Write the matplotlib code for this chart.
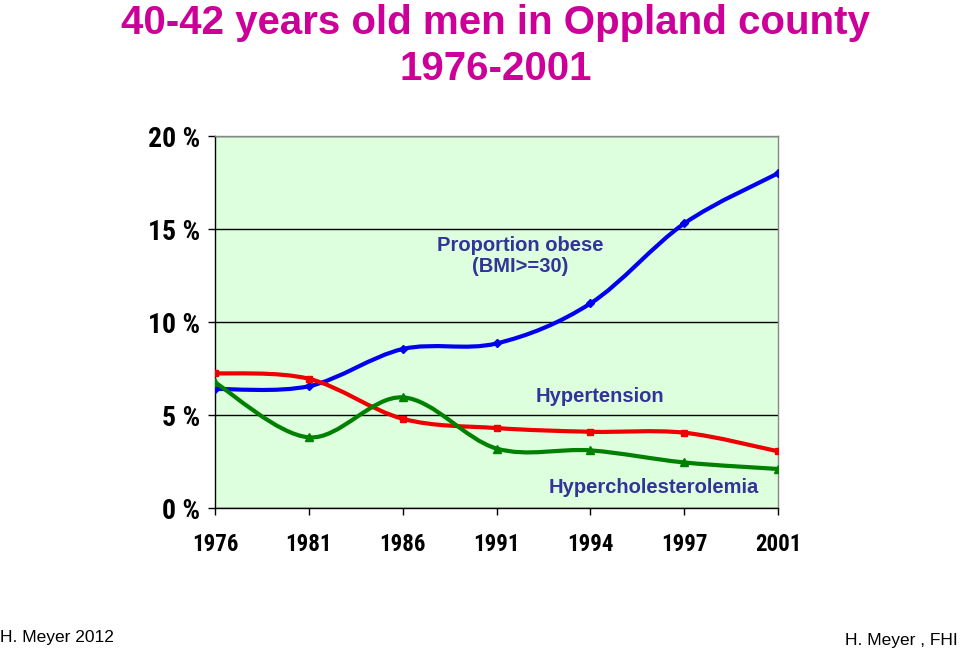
import numpy as np
import matplotlib
matplotlib.use("Agg")
import matplotlib.pyplot as plt
from matplotlib.path import Path
from matplotlib.patches import PathPatch
from matplotlib import font_manager

years = ["1976", "1981", "1986", "1991", "1994", "1997", "2001"]
obese = [6.4, 6.55, 8.55, 8.85, 11.0, 15.3, 18.0]
hypertension = [7.25, 6.95, 4.8, 4.3, 4.1, 4.05, 3.05]
cholesterol = [6.75, 3.8, 5.95, 3.2, 3.1, 2.45, 2.1]

ARIAL = ["Liberation Sans", "DejaVu Sans"]
LABEL_BLUE = "#333399"

# pick a condensed bold face for tick labels if one is installed
names = {f.name for f in font_manager.fontManager.ttflist}
NARROW = "Liberation Sans"
for cand in ["Liberation Sans Narrow", "DejaVu Sans Condensed", "Roboto Condensed",
             "Open Sans Condensed"]:
    if cand in names:
        NARROW = cand
        break


def smooth_path(x, y):
    # Excel-like smoothed line: cubic Bezier through each point
    pts = np.column_stack([x, y]).astype(float)
    n = len(pts)
    verts = [pts[0]]
    codes = [Path.MOVETO]
    for i in range(n - 1):
        p0 = pts[i - 1] if i > 0 else pts[i]
        p1, p2 = pts[i], pts[i + 1]
        p3 = pts[i + 2] if i + 2 < n else pts[i + 1]
        c1 = p1 + (p2 - p0) / 6.0
        c2 = p2 - (p3 - p1) / 6.0
        verts += [c1, c2, p2]
        codes += [Path.CURVE4] * 3
    return Path(verts, codes)


fig = plt.figure(figsize=(9.6, 6.48), dpi=100)
ax = fig.add_axes([0.224, 0.216, 0.5865, 0.574])
ax.set_facecolor("#DDFFDD")

x = np.arange(len(years))
series = [
    (obese, "#0000EE", "D", 4),
    (hypertension, "#EE0000", "s", 5),
    (cholesterol, "#008000", "^", 6),
]
for vals, color, marker, ms in series:
    ax.add_patch(PathPatch(smooth_path(x, vals), facecolor="none",
                           edgecolor=color, lw=3, zorder=3))
    ax.plot(x, vals, ls="none", marker=marker, ms=ms, color=color, zorder=4)

ax.set_xlim(0, len(years) - 1)
ax.set_ylim(0, 20)
ax.set_yticks([0, 5, 10, 15, 20])
ax.set_yticklabels([f"{v} %" for v in [0, 5, 10, 15, 20]])
ax.set_xticks(x)
ax.set_xticklabels(years)
ax.grid(axis="y", color="black", lw=1)
ax.set_axisbelow(True)

for lab in ax.get_yticklabels():
    lab.set_fontfamily(NARROW)
    lab.set_fontweight("bold")
    lab.set_fontstretch("condensed")
    lab.set_fontsize(20)
for lab in ax.get_xticklabels():
    lab.set_fontfamily(NARROW)
    lab.set_fontweight("bold")
    lab.set_fontstretch("condensed")
    lab.set_fontsize(16.5)
ax.tick_params(axis="x", length=5, width=1, direction="out", pad=13)
ax.tick_params(axis="y", length=5, width=1, direction="out", pad=6)

for side in ["left", "bottom"]:
    ax.spines[side].set_color("black")
    ax.spines[side].set_linewidth(1)
for side in ["right", "top"]:
    ax.spines[side].set_color("#888888")
    ax.spines[side].set_linewidth(1)

ax.text(3.25, 13.55, "Proportion obese\n(BMI>=30)", color=LABEL_BLUE,
        fontsize=14.5, fontweight="bold", family=ARIAL, ha="center",
        va="center", linespacing=1.15)
ax.text(4.1, 6.0, "Hypertension", color=LABEL_BLUE, fontsize=14.5,
        fontweight="bold", family=ARIAL, ha="center", va="center")
ax.text(4.67, 1.1, "Hypercholesterolemia", color=LABEL_BLUE, fontsize=14.5,
        fontweight="bold", family=ARIAL, ha="center", va="center")

fig.text(0.516, 0.965, "40-42 years old men in Oppland county", color="#CC0099",
         fontsize=29, fontweight="bold", family=ARIAL, ha="center", va="center")
fig.text(0.516, 0.893, "1976-2001", color="#CC0099", fontsize=29,
         fontweight="bold", family=ARIAL, ha="center", va="center")

fig.text(0.0, 0.005, "H. Meyer 2012", fontsize=12.5, family=ARIAL, ha="left", va="bottom")
fig.text(0.998, 0.0, "H. Meyer , FHI", fontsize=12.5, family=ARIAL, ha="right", va="bottom")

fig.savefig("out.png", dpi=100)
